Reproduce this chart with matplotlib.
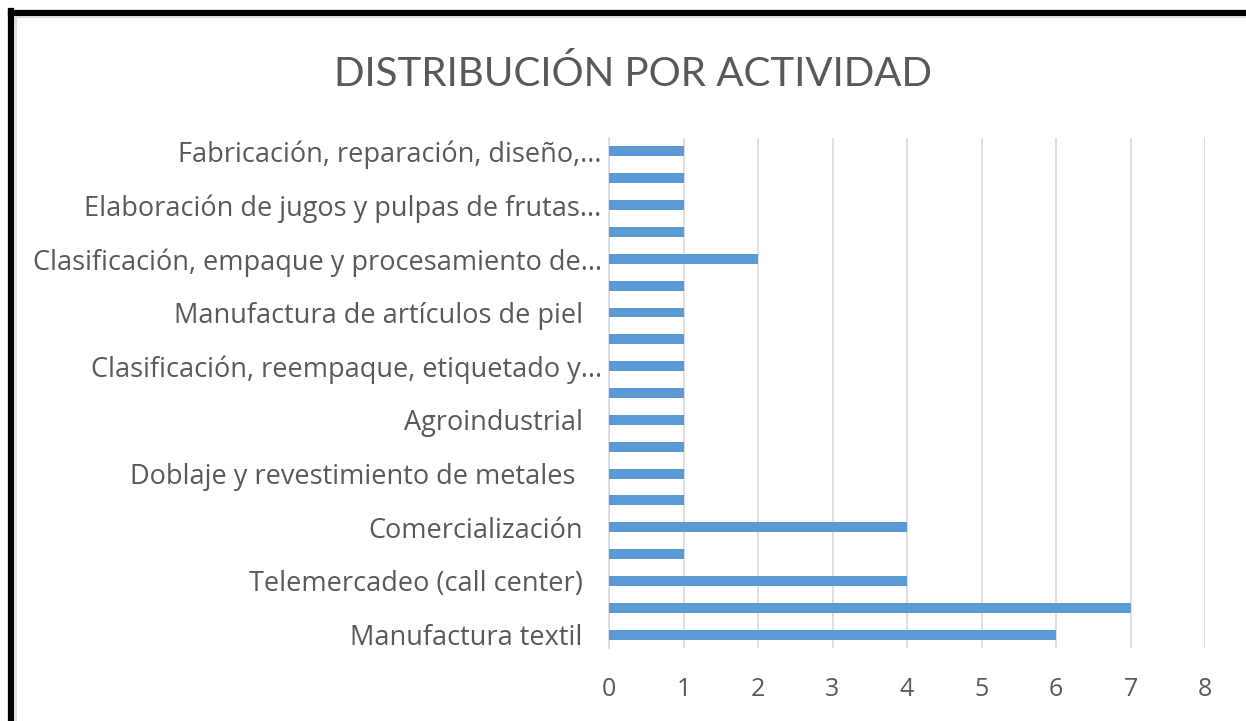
import matplotlib.pyplot as plt
from matplotlib.lines import Line2D
from matplotlib.transforms import ScaledTranslation

# categorías de abajo hacia arriba (las vacías no tienen etiqueta visible)
categorias = [
    "Manufactura textil", "",
    "Telemercadeo (call center)", "",
    "Comercialización", "",
    "Doblaje y revestimiento de metales ", "",
    "Agroindustrial", "",
    "Clasificación, reempaque, etiquetado y...", "",
    "Manufactura de artículos de piel", "",
    "Clasificación, empaque y procesamiento de...", "",
    "Elaboración de jugos y pulpas de frutas...", "",
    "Fabricación, reparación, diseño,...",
]
valores = [6, 7, 4, 1, 4, 1, 1, 1, 1, 1, 1, 1, 1, 1, 2, 1, 1, 1, 1]
x_ticks = [0, 1, 2, 3, 4, 5, 6, 7, 8]

gris = "#595959"
azul = "#5b9bd5"
plt.rcParams['font.family'] = ['Open Sans', 'DejaVu Sans']

fig = plt.figure(figsize=(12.46, 7.21), dpi=100)
ax = fig.add_axes([0.4888, 0.1012, 0.4783, 0.7074])

pos = list(range(len(valores)))
ax.barh(pos, valores, height=0.37, color=azul, zorder=3)

ax.set_ylim(-0.5, len(valores) - 0.5)
ax.set_xlim(0, 8)
ax.set_xticks(x_ticks)
ax.set_xticklabels([str(t) for t in x_ticks], fontsize=18, color=gris)
ax.set_yticks(pos)
ax.set_yticklabels(categorias, fontsize=19.5, color=gris)
ax.tick_params(axis='y', length=0, pad=19)
ax.tick_params(axis='x', length=0, pad=21)

# las etiquetas recortadas con "..." llegan casi hasta el eje
for lab in ax.get_yticklabels():
    if lab.get_text().endswith("..."):
        lab.set_transform(lab.get_transform() +
                          ScaledTranslation(0.19, 0, fig.dpi_scale_trans))

ax.grid(axis='x', color="#d9d9d9", linewidth=1.2, zorder=0)
for s in ['top', 'right', 'bottom']:
    ax.spines[s].set_visible(False)
ax.spines['left'].set_color("#d9d9d9")
ax.spines['left'].set_linewidth(1.2)

fig.text(0.5078, 0.898, "DISTRIBUCIÓN POR ACTIVIDAD", ha='center', va='center',
         fontsize=29, color=gris, family=['Lato', 'DejaVu Sans'])

# marco negro (arriba e izquierda)
fig.add_artist(Line2D([0.0085, 1.0], [0.982, 0.982], color='black', linewidth=4.5,
                      transform=fig.transFigure))
fig.add_artist(Line2D([0.0088, 0.0088], [0.0, 0.985], color='black', linewidth=4.5,
                      transform=fig.transFigure))
fig.add_artist(Line2D([0.012, 1.0], [0.976, 0.976], color='#d9d9d9', linewidth=1.2,
                      transform=fig.transFigure))
fig.add_artist(Line2D([0.0125, 0.0125], [0.0, 0.976], color='#d9d9d9', linewidth=1.2,
                      transform=fig.transFigure))

fig.savefig("out.png", dpi=100)
